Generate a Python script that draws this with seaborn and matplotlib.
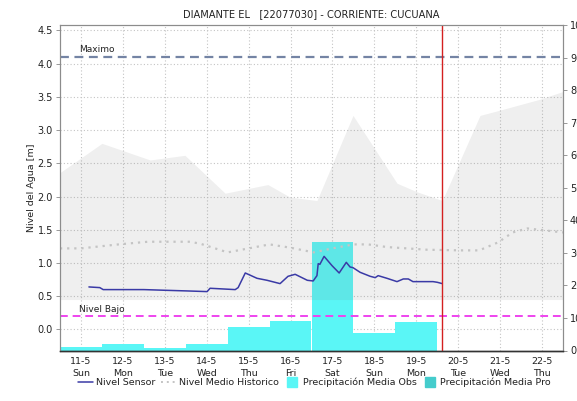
import matplotlib
matplotlib.use("Agg")
import matplotlib.pyplot as plt
from matplotlib.lines import Line2D
import seaborn as sns
import pandas as pd

# ---- data -------------------------------------------------------------
day_ticks = [11, 12, 13, 14, 15, 16, 17, 18, 19, 20, 21, 22]
day_labels = ["11-5\nSun", "12-5\nMon", "13-5\nTue", "14-5\nWed", "15-5\nThu",
              "16-5\nFri", "17-5\nSat", "18-5\nSun", "19-5\nMon", "20-5\nTue",
              "21-5\nWed", "22-5\nThu"]

# water level from the sensor (day of month, metres)
sensor_t = [11.19, 11.45, 11.53, 12.0, 12.5, 13.0, 13.53, 14.01, 14.08, 14.68,
            14.75, 14.92, 15.2, 15.44, 15.75, 15.94, 16.11, 16.4, 16.54, 16.63,
            16.66, 16.7, 16.8, 16.99, 17.16, 17.33, 17.42, 17.49, 17.66, 17.9,
            18.02, 18.09, 18.3, 18.54, 18.69, 18.81, 18.92, 19.4, 19.5, 19.62]
sensor_v = [0.64, 0.63, 0.60, 0.60, 0.60, 0.59, 0.58, 0.57, 0.62, 0.60,
            0.63, 0.85, 0.77, 0.74, 0.69, 0.80, 0.83, 0.74, 0.73, 0.81,
            0.99, 0.98, 1.10, 0.96, 0.85, 1.01, 0.94, 0.93, 0.86, 0.80,
            0.78, 0.81, 0.77, 0.72, 0.76, 0.76, 0.72, 0.72, 0.71, 0.69]

# historical mean level
hist_t = [10.5, 11.0, 11.9, 12.6, 13.6, 13.85, 14.5, 15.0, 15.5, 16.0, 16.55,
          17.0, 17.5, 17.85, 18.3, 19.25, 20.05, 20.5, 20.95, 21.3, 21.65, 22.5]
hist_v = [1.22, 1.22, 1.28, 1.32, 1.32, 1.29, 1.16, 1.22, 1.28, 1.23, 1.16,
          1.22, 1.28, 1.28, 1.24, 1.20, 1.19, 1.19, 1.31, 1.46, 1.52, 1.46]

# historical range band
band_t = [10.5, 11.5, 12.65, 13.48, 14.44, 15.46, 15.99, 16.63, 17.49, 18.54,
          19.02, 19.62, 20.52, 21.0, 21.93, 22.5]
band_hi = [2.36, 2.80, 2.55, 2.62, 2.05, 2.18, 1.99, 1.94, 3.22, 2.20,
           2.07, 1.94, 3.22, 3.30, 3.46, 3.58]
band_lo = 0.45

# daily mean precipitation (observed)
precip_days = [11, 12, 13, 14, 15, 16, 17, 18, 19]
precip_obs = [1.0, 2.0, 0.8, 2.0, 7.3, 9.2, 33.2, 5.3, 8.7]

level_max = 4.1
level_low = 0.2
now_t = 19.62

title = "DIAMANTE EL   [22077030] - CORRIENTE: CUCUANA"

# ---- figure -----------------------------------------------------------
sns.set_style("white")
plt.rcParams["font.family"] = ["DejaVu Sans"]

fig = plt.figure(figsize=(5.77, 4.01), dpi=100)
ax = fig.add_axes([60 / 577, 1 - 350.5 / 401, 503 / 577, 325.5 / 401])
ax2 = ax.twinx()

ax.set_xlim(10.5, 22.5)
ax.set_ylim(-0.316, 4.58)
ax2.set_ylim(0, 100)

# grid at the bottom of the stack
ax.set_axisbelow(True)
ax.grid(True, color="#c4c4c4", linestyle=(0, (1, 2)), linewidth=0.8)

# precipitation bars, measured on the right-hand scale
ax.bar(precip_days, precip_obs, width=1.0, color="#5af6f6", linewidth=0,
       transform=ax2.transData, zorder=1)

# historical range band
ax.fill_between(band_t, band_lo, band_hi, color="#808080", alpha=0.125,
                linewidth=0, zorder=1.5)

hist_df = pd.DataFrame({"t": hist_t, "v": hist_v})
sns.lineplot(data=hist_df, x="t", y="v", ax=ax, color="#c4c4c4",
             linewidth=1.6, linestyle=(0, (1, 2.2)), zorder=2)

sensor_df = pd.DataFrame({"t": sensor_t, "v": sensor_v})
sns.lineplot(data=sensor_df, x="t", y="v", ax=ax, color="#3a3aa6",
             linewidth=1.1, zorder=3)

# reference levels
ax.axhline(level_max, color="#7484a4", linestyle=(0, (4, 2.5)), linewidth=1.6, zorder=2.5)
ax.axhline(level_low, color="#ee44ee", linestyle=(0, (4, 2.5)), linewidth=1.4, zorder=2.5)
ax.text(10.95, level_max + 0.04, "Maximo", fontsize=6.5, color="#222222",
        va="bottom", ha="left")
ax.text(10.95, level_low + 0.04, "Nivel Bajo", fontsize=6.5, color="#222222",
        va="bottom", ha="left")

# current time marker
ax.axvline(now_t, color="#d42020", linewidth=1.0, zorder=4)

# ---- axes styling -----------------------------------------------------
ax.set_xticks(day_ticks)
ax.set_xticklabels(day_labels, fontsize=6.8, linespacing=1.3, color="#222222")
ax.tick_params(axis="x", length=0, pad=5)
ax.set_yticks([0.0, 0.5, 1.0, 1.5, 2.0, 2.5, 3.0, 3.5, 4.0, 4.5])
ax.set_yticklabels(["0.0", "0.5", "1.0", "1.5", "2.0", "2.5", "3.0", "3.5", "4.0", "4.5"])
ax.tick_params(axis="y", labelsize=7, length=3, width=0.6, color="#888888",
               pad=2, labelcolor="#222222")
ax.set_xlabel("")
ax.set_ylabel("Nivel del Agua [m]", fontsize=6.8, labelpad=1, color="#222222")

ax2.set_yticks(range(0, 101, 10))
ax2.tick_params(axis="y", labelsize=7, length=3, width=0.6, color="#888888",
                pad=2, labelcolor="#222222")

for a in (ax, ax2):
    for side in ("left", "right", "top"):
        a.spines[side].set_color("#8c8c8c")
        a.spines[side].set_linewidth(0.8)
    a.spines["bottom"].set_color("#333333")
    a.spines["bottom"].set_linewidth(1.0)
    a.spines["bottom"].set_linestyle((0, (1, 1)))

ax.set_title(title, fontsize=7.1, pad=6, color="#222222")

# ---- legend -----------------------------------------------------------
handles = [
    Line2D([], [], color="#3a3aa6", linewidth=1.1),
    Line2D([], [], color="#c4c4c4", linewidth=1.4, linestyle=(0, (1, 2))),
    Line2D([], [], color="#5af6f6", marker="s", markersize=7, linestyle="none"),
    Line2D([], [], color="#45cccc", marker="s", markersize=7, linestyle="none"),
]
labels = ["Nivel Sensor", "Nivel Medio Historico", "Precipitación Media Obs",
          "Precipitación Media Pro"]
fig.legend(handles, labels, loc="center", bbox_to_anchor=(0.545, 0.047),
           ncol=4, frameon=False, fontsize=6.8, handlelength=1.6,
           handletextpad=0.3, columnspacing=0.6, labelcolor="#222222")

fig.savefig("out.png", dpi=100)
